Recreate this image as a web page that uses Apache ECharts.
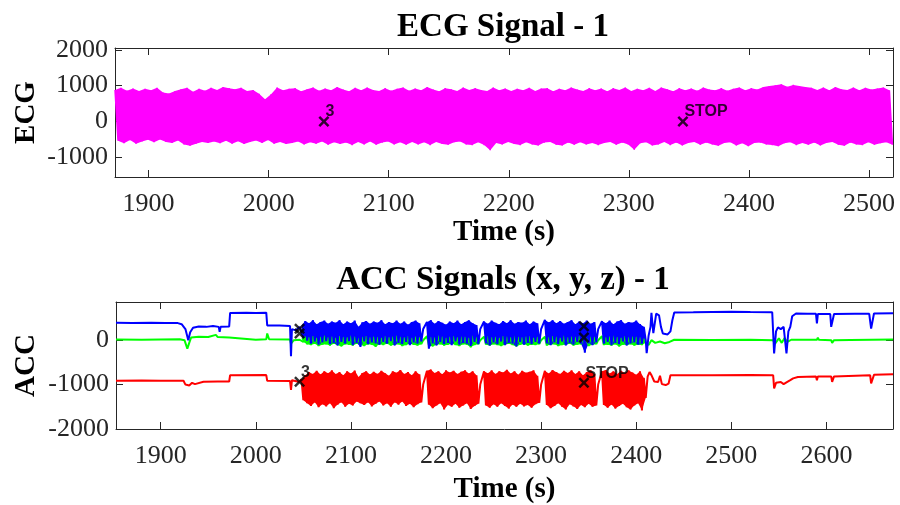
<!DOCTYPE html>
<html><head><meta charset="utf-8">
<script src="https://cdn.jsdelivr.net/npm/echarts@6/dist/echarts.min.js"></script>
<style>html,body{margin:0;padding:0;background:#fff;}#chart{width:900px;height:505px;}</style>
</head><body><div id="chart"></div>
<script>
// ---------- tick labels ----------
const ecgXTicks = [1900, 2000, 2100, 2200, 2300, 2400, 2500];
const ecgYTicks = [-1000, 0, 1000, 2000];
const accXTicks = [1900, 2000, 2100, 2200, 2300, 2400, 2500, 2600];
const accYTicks = [-2000, -1000, 0];

// ---------- ECG envelope (sampled every ecgStep s from ecgStart) ----------
const ecgStart = 1872, ecgStep = 5;
const ecgHi = [
 880, 940, 860, 920, 850, 910, 870, 940, 810, 780,
 850, 900, 940, 830, 910, 860, 940, 880, 960, 930,
 900, 940, 850, 880, 770, 620, 760, 950, 870, 910,
 930, 840, 900, 950, 860, 920, 870, 960, 890, 840,
 940, 870, 950, 880, 850, 930, 860, 910, 950, 860,
 920, 870, 960, 890, 840, 930, 900, 850, 950, 880,
 930, 880, 850, 950, 870, 920, 850, 910, 870, 940,
 850, 920, 930, 840, 910, 870, 950, 890, 850, 930,
 870, 920, 840, 930, 880, 950, 850, 910, 870, 940,
 850, 950, 900, 840, 930, 870, 920, 860, 950, 890,
 870, 930, 860, 910, 950, 870, 930, 890, 960, 990,
 1010, 1040, 970, 1020, 990, 960, 940, 880, 950, 870,
 960, 900, 880, 950, 870, 940, 890, 920, 950, 870
];
const ecgLo = [
 -540, -610, -520, -620, -560, -510, -580, -500, -570, -600,
 -530, -640, -680, -620, -570, -600, -560, -610, -540, -620,
 -550, -630, -570, -530, -600, -520, -620, -570, -630, -600,
 -560, -640, -580, -620, -560, -650, -580, -630, -590, -660,
 -570, -640, -560, -650, -590, -560, -640, -580, -650, -570,
 -640, -580, -660, -570, -630, -650, -580, -560, -640, -660,
 -580, -660, -800, -600, -640, -570, -630, -660, -580, -640,
 -670, -590, -570, -650, -670, -590, -650, -580, -640, -600,
 -660, -600, -570, -650, -590, -640, -790, -610, -580, -670,
 -640, -570, -660, -590, -670, -600, -570, -650, -590, -640,
 -680, -600, -580, -670, -610, -690, -600, -590, -640, -660,
 -690, -610, -580, -660, -600, -650, -590, -670, -600, -570,
 -650, -680, -590, -640, -660, -580, -650, -610, -580, -650
];
const ecgMarkT = [2046, 2345];
const ecgMarkV = [0, 0];
const ecgMarkText = ['3', 'STOP'];

// ---------- ACC: quiet parts as [t, value] ----------
const redPre = [[1853,-915],[1880,-910],[1900,-915],[1924,-915],[1926,-1000],[1930,-1020],[1933,-960],[1936,-990],[1945,-935],[1960,-930],[1972,-930],[1973,-787],[2011,-785],[2012,-915],[2036,-920],[2037,-1120],[2038,-900],[2046,-940]];
const redPost = [[2412,-820],[2414,-720],[2416,-787],[2419,-930],[2423,-940],[2425,-800],[2427,-990],[2431,-1010],[2434,-980],[2436,-790],[2480,-790],[2520,-785],[2544,-790],[2545,-1085],[2547,-960],[2552,-940],[2555,-990],[2558,-950],[2562,-900],[2565,-860],[2570,-830],[2589,-820],[2590,-900],[2591,-820],[2605,-815],[2606,-937],[2608,-815],[2646,-790],[2647,-975],[2649,-960],[2650,-780],[2670,-765]];
const greenPre = [[1853,15],[1880,10],[1900,15],[1920,20],[1925,0],[1928,-190],[1930,-60],[1932,60],[1940,80],[1950,70],[1958,120],[1960,70],[1972,60],[1974,15],[2000,10],[2011,20],[2012,150],[2014,20],[2036,15],[2037,-80],[2040,0],[2046,10]];
const greenPost = [[2411,-50],[2413,-110],[2416,0],[2420,-60],[2425,-30],[2430,-70],[2435,-40],[2440,10],[2480,5],[2520,10],[2544,0],[2546,-80],[2550,40],[2553,-60],[2556,50],[2559,-40],[2563,10],[2590,10],[2591,60],[2592,10],[2605,0],[2606,-60],[2608,0],[2625,5],[2626,-30],[2627,5],[2670,15]];
const bluePre = [[1853,390],[1870,385],[1890,395],[1905,385],[1918,385],[1922,360],[1926,250],[1929,0],[1931,180],[1934,280],[1940,310],[1948,300],[1955,320],[1961,300],[1962,190],[1963,300],[1972,310],[1973,615],[1990,620],[2000,615],[2011,620],[2012,330],[2025,330],[2036,320],[2037,-360],[2038,250],[2042,220],[2046,300]];
const bluePost = [[2411,-290],[2413,100],[2415,300],[2416,615],[2417,600],[2418,160],[2420,200],[2421,600],[2424,560],[2426,300],[2428,150],[2433,130],[2436,200],[2438,450],[2440,625],[2460,630],[2480,636],[2500,640],[2520,632],[2543,630],[2545,-300],[2547,200],[2549,290],[2552,250],[2555,300],[2557,290],[2558,-300],[2560,200],[2562,300],[2564,540],[2566,560],[2568,600],[2580,595],[2589,595],[2590,380],[2591,590],[2604,590],[2605,300],[2607,310],[2608,590],[2630,595],[2645,595],[2647,260],[2649,280],[2650,600],[2670,605]];

// ---------- ACC: active part envelopes (every accStep s from accStart) ----------
const accStart = 2048, accStep = 4;
const accQuietIdx = [32, 47, 63, 78];   // short quiet moments splitting the active bursts
const redHi = [
 -880, -790, -720, -760, -690, -770, -700, -745, -680, -760,
 -720, -790, -700, -750, -685, -830, -740, -700, -770, -710,
 -760, -690, -745, -800, -700, -735, -670, -760, -720, -790,
 -700, -770, -1000, -690, -660, -740, -700, -765, -680, -730,
 -690, -760, -710, -680, -750, -700, -790, -1000, -700, -745,
 -680, -760, -700, -730, -665, -750, -700, -780, -690, -735,
 -710, -680, -800, -1000, -690, -750, -670, -720, -760, -690,
 -740, -680, -760, -700, -790, -720, -680, -760, -1000, -700,
 -670, -750, -700, -760, -690, -740, -680, -730, -780, -700,
 -850
];
const redLo = [
 -1350, -1420, -1480, -1400, -1510, -1440, -1490, -1420, -1530, -1450,
 -1400, -1500, -1430, -1470, -1380, -1420, -1460, -1400, -1490, -1430,
 -1380, -1470, -1420, -1500, -1400, -1450, -1380, -1480, -1430, -1510,
 -1440, -1400, -1000, -1450, -1530, -1470, -1420, -1560, -1460, -1500,
 -1430, -1520, -1470, -1420, -1550, -1480, -1430, -1000, -1470, -1520,
 -1440, -1500, -1420, -1480, -1540, -1450, -1500, -1430, -1490, -1460,
 -1520, -1440, -1410, -1000, -1460, -1530, -1480, -1420, -1500, -1560,
 -1440, -1490, -1550, -1460, -1510, -1430, -1500, -1470, -1000, -1460,
 -1520, -1450, -1540, -1480, -1430, -1510, -1560, -1470, -1420, -1580,
 -1300
];
const greenHi = [
 40, 80, 60, 90, 50, 70, 100, 60, 80, 50,
 90, 70, 60, 100, 80, 50, 70, 90, 60, 80,
 70, 50, 90, 60, 80, 100, 70, 60, 90, 50,
 80, 60, 0, 90, 70, 60, 100, 80, 50, 70,
 90, 60, 80, 70, 50, 100, 60, 0, 80, 90,
 60, 70, 50, 90, 80, 60, 100, 70, 60, 80,
 90, 50, 70, 0, 80, 60, 90, 70, 50, 100,
 60, 80, 70, 90, 60, 50, 80, 70, 0, 90,
 60, 80, 100, 70, 50, 90, 60, 80, 70, 60,
 30
];
const greenLo = [
 -40, -90, -110, -80, -130, -100, -90, -120, -80, -110,
 -140, -90, -100, -120, -80, -110, -130, -90, -100, -150,
 -90, -110, -80, -120, -100, -90, -130, -110, -80, -100,
 -120, -90, 0, -110, -140, -100, -90, -120, -100, -80,
 -110, -130, -90, -100, -160, -110, -90, 0, -100, -120,
 -90, -110, -130, -100, -80, -110, -140, -100, -90, -120,
 -100, -110, -90, 0, -120, -100, -90, -130, -110, -100,
 -80, -120, -100, -90, -110, -130, -100, -90, 0, -110,
 -100, -120, -90, -140, -100, -110, -90, -120, -100, -110,
 -60
];
const blueHi = [
 330, 430, 380, 450, 360, 410, 440, 370, 420, 390,
 450, 360, 420, 380, 440, 300, 400, 430, 370, 420,
 390, 450, 360, 410, 380, 440, 370, 420, 350, 410,
 440, 380, 250, 410, 450, 370, 430, 390, 350, 420,
 380, 440, 360, 410, 450, 380, 340, 250, 420, 370,
 440, 390, 360, 430, 380, 450, 370, 410, 390, 440,
 360, 420, 380, 250, 460, 400, 450, 380, 430, 370,
 410, 450, 360, 420, 380, 440, 370, 410, 250, 430,
 380, 440, 360, 420, 450, 370, 410, 390, 440, 360,
 300
];
const blueLo = [
 50, -10, -80, -30, -100, -50, -20, -90, -60, -120,
 -40, -80, -20, -110, -60, -150, -30, -90, -50, -70,
 -100, -40, -80, -20, -120, -60, -90, -40, -110, -50,
 -80, -30, 250, -190, -70, -120, -40, -90, -60, -110,
 -30, -100, -60, -80, -130, -40, -90, 250, -70, -120,
 -50, -90, -30, -110, -60, -80, -140, -40, -100, -60,
 -90, -40, -80, 250, -70, -110, -50, -90, -30, -120,
 -60, -100, -40, -80, -280, -70, -110, -50, 250, -80,
 -40, -110, -60, -90, -30, -120, -70, -50, -100, -80,
 0
];
const accMarkT = [2046, 2046, 2046, 2345, 2345, 2345];
const accMarkV = [260, 150, -935, 315, 60, -960];
const accMarkText = ['', '', '3', '', '', 'STOP'];

// ---------- helpers ----------
const AXC = '#262626';
const SERIF = 'Liberation Serif';
function zigzag(start, step, hi, lo) {
  const out = [];
  hi.forEach((h, i) => { out.push([start + i * step, h]); out.push([start + i * step + step / 2, lo[i]]); });
  return out;
}
// filled envelope, split into separate pieces at the quiet indices
function band(xi, yi, start, step, hi, lo, color, breaks) {
  breaks = breaks || [];
  return {
    type: 'custom', coordinateSystem: 'cartesian2d', xAxisIndex: xi, yAxisIndex: yi,
    silent: true, clip: true, animation: false,
    data: [[start, hi[0]]],
    renderItem: function (params, api) {
      const pieces = [];
      let seg = [];
      for (let i = 0; i < hi.length; i++) {
        if (breaks.indexOf(i) >= 0) { if (seg.length) pieces.push(seg); seg = []; continue; }
        seg.push(i);
      }
      if (seg.length) pieces.push(seg);
      return {
        type: 'group',
        children: pieces.map(function (s) {
          const pts = [];
          s.forEach(function (i) { pts.push(api.coord([start + i * step, hi[i]])); });
          s.slice().reverse().forEach(function (i) { pts.push(api.coord([start + i * step + step / 2, lo[i]])); });
          return { type: 'polygon', shape: { points: pts }, style: { fill: color } };
        })
      };
    }
  };
}
function line(xi, yi, data, color, w) {
  return { type: 'line', xAxisIndex: xi, yAxisIndex: yi, data: data, showSymbol: false, symbol: 'none',
    lineStyle: { color: color, width: w }, itemStyle: { color: color }, silent: true, animation: false };
}
const XPATH = 'path://M0,1.6L1.6,0L5,3.4L8.4,0L10,1.6L6.6,5L10,8.4L8.4,10L5,6.6L1.6,10L0,8.4L3.4,5Z';
function marks(xi, yi, T, V, L) {
  return { type: 'scatter', xAxisIndex: xi, yAxisIndex: yi, symbol: XPATH, symbolSize: 11, z: 10,
    itemStyle: { color: '#000' }, silent: true, animation: false,
    label: { show: true, formatter: '{b}', position: [7, -12], align: 'left', verticalAlign: 'top',
      fontFamily: 'Liberation Sans', fontWeight: 'bold', fontSize: 16, color: '#000' },
    data: T.map((t, i) => ({ name: L[i], value: [t, V[i]] })) };
}
const nameStyle = { fontFamily: SERIF, fontWeight: 'bold', fontSize: 29, color: '#000' };
const plain = function (v) { return String(v); };
function xAx(g, min, max, ticks, main, gap) {
  return { type: 'value', gridIndex: g, min: min, max: max, position: main ? 'bottom' : 'top',
    name: main ? 'Time (s)' : '', nameLocation: 'middle', nameGap: gap, nameMoveOverlap: false, nameTextStyle: nameStyle,
    axisLine: { show: true, onZero: false, lineStyle: { color: AXC, width: 1 } },
    axisTick: { show: true, inside: true, length: 7, customValues: ticks, lineStyle: { color: AXC } },
    axisLabel: { show: main, customValues: ticks, formatter: plain, margin: 14, fontFamily: SERIF, fontSize: 26, color: AXC },
    splitLine: { show: false } };
}
function yAx(g, min, max, ticks, main, name, gap) {
  return { type: 'value', gridIndex: g, min: min, max: max, position: main ? 'left' : 'right',
    name: main ? name : '', nameLocation: 'middle', nameGap: gap, nameMoveOverlap: false, nameTextStyle: nameStyle,
    axisLine: { show: true, onZero: false, lineStyle: { color: AXC, width: 1 } },
    axisTick: { show: true, inside: true, length: 7, customValues: ticks, lineStyle: { color: AXC } },
    axisLabel: { show: main, customValues: ticks, formatter: plain, margin: 7, fontFamily: SERIF, fontSize: 26, color: AXC },
    splitLine: { show: false } };
}

const chart = echarts.init(document.getElementById('chart'), null, { renderer: 'canvas' });
chart.setOption({
  animation: false,
  backgroundColor: '#fff',
  graphic: [
    { type: 'text', x: 503, y: 27, style: { text: 'ECG Signal - 1', font: 'bold 33px "Liberation Serif"', fill: '#000', textAlign: 'center', textVerticalAlign: 'middle' } },
    { type: 'text', x: 503, y: 280, style: { text: 'ACC Signals (x, y, z) - 1', font: 'bold 33px "Liberation Serif"', fill: '#000', textAlign: 'center', textVerticalAlign: 'middle' } }
  ],
  grid: [
    { left: 115, top: 48, width: 778, height: 129, containLabel: false, outerBoundsMode: 'none' },
    { left: 116, top: 302, width: 777, height: 127, containLabel: false, outerBoundsMode: 'none' }
  ],
  xAxis: [
    xAx(0, 1872, 2520, ecgXTicks, true, 41),
    xAx(0, 1872, 2520, ecgXTicks, false, 0),
    xAx(1, 1853, 2670, accXTicks, true, 46),
    xAx(1, 1853, 2670, accXTicks, false, 0)
  ],
  yAxis: [
    yAx(0, -1550, 2050, ecgYTicks, true, 'ECG', 74),
    yAx(0, -1550, 2050, ecgYTicks, false, '', 0),
    yAx(1, -2000, 860, accYTicks, true, 'ACC', 75),
    yAx(1, -2000, 860, accYTicks, false, '', 0)
  ],
  series: [
    band(0, 0, ecgStart, ecgStep, ecgHi, ecgLo, '#ff00ff'),
    line(0, 0, zigzag(ecgStart, ecgStep, ecgHi, ecgLo), '#ff00ff', 1.5),
    marks(0, 0, ecgMarkT, ecgMarkV, ecgMarkText),
    band(2, 2, accStart, accStep, redHi, redLo, '#ff0000', accQuietIdx),
    line(2, 2, redPre.concat(zigzag(accStart, accStep, redHi, redLo), redPost), '#ff0000', 2),
    band(2, 2, accStart, accStep, greenHi, greenLo, '#00ff00', accQuietIdx),
    line(2, 2, greenPre.concat(zigzag(accStart, accStep, greenHi, greenLo), greenPost), '#00ff00', 2),
    band(2, 2, accStart, accStep, blueHi, blueLo, '#0000ff', accQuietIdx),
    line(2, 2, bluePre.concat(zigzag(accStart, accStep, blueHi, blueLo), bluePost), '#0000ff', 2),
    marks(2, 2, accMarkT, accMarkV, accMarkText)
  ]
});
</script></body></html>
